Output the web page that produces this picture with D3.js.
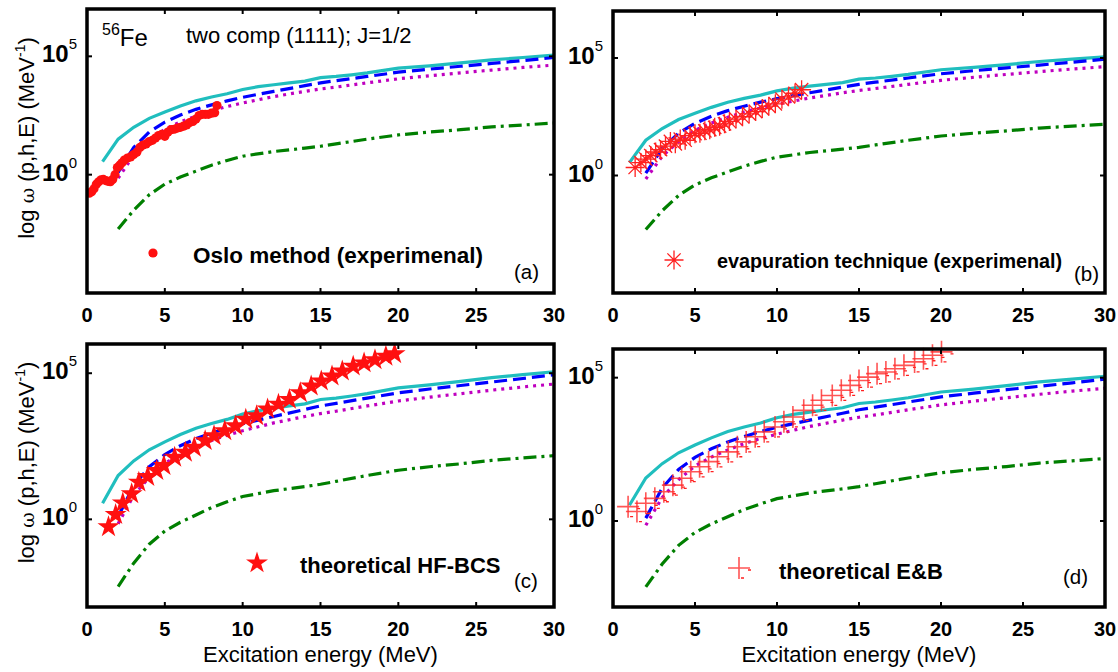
<!DOCTYPE html>
<html>
<head>
<meta charset="utf-8">
<script src="https://cdn.jsdelivr.net/npm/d3@7"></script>
<style>
  body { margin: 0; background: #fff; }
  svg { display: block; font-family: "Liberation Sans", Arial, sans-serif; }
</style>
</head>
<body>
<svg id="chart" width="1118" height="672"></svg>
<script>
// model curves (log10 of omega)
const cyanE   = [1, 2, 3, 4, 5, 6, 7, 8, 9, 10, 11, 12, 13, 14, 15, 16, 17, 18, 20, 22, 24, 26, 28, 30]
const cyanLog = [0.55, 1.5, 2.0, 2.38, 2.65, 2.9, 3.12, 3.28, 3.42, 3.6, 3.72, 3.8, 3.88, 3.95, 4.1, 4.15, 4.22, 4.3, 4.5, 4.6, 4.72, 4.85, 4.95, 5.05]

const curveE   = [2, 3, 4, 5, 6, 7, 8, 9, 10, 12, 14, 15, 16, 18, 20, 22, 24, 26, 28, 30]
const blueLog  = [0.1, 1.15, 1.8, 2.22, 2.52, 2.76, 2.95, 3.12, 3.27, 3.52, 3.76, 3.88, 3.97, 4.15, 4.33, 4.46, 4.58, 4.7, 4.82, 4.95]
const magLog   = [-0.15, 0.82, 1.44, 1.92, 2.23, 2.48, 2.7, 2.88, 3.03, 3.3, 3.52, 3.62, 3.7, 3.88, 4.05, 4.18, 4.3, 4.42, 4.53, 4.63]
const greenLog = [-2.3, -1.5, -0.85, -0.4, -0.1, 0.15, 0.4, 0.6, 0.78, 0.98, 1.12, 1.2, 1.3, 1.5, 1.68, 1.8, 1.9, 2.02, 2.1, 2.18]

// (a) Oslo method
const osloE   = [0.15, 0.3, 0.45, 0.6, 0.75, 0.9, 1.05, 1.2, 1.35, 1.5, 1.65, 1.8, 1.95, 2.1, 2.25, 2.4, 2.6, 2.8, 3.0, 3.2, 3.4, 3.6, 3.8, 4.0, 4.2, 4.4, 4.6, 4.8, 5.0, 5.2, 5.4, 5.6, 5.8, 6.0, 6.2, 6.4, 6.6, 6.8, 7.0, 7.2, 7.4, 7.6, 7.8, 8.0, 8.2, 8.35]
const osloLog = [-0.78, -0.72, -0.6, -0.4, -0.3, -0.22, -0.2, -0.25, -0.28, -0.3, -0.2, 0.0, 0.3, 0.4, 0.5, 0.62, 0.7, 0.75, 0.85, 0.95, 1.15, 1.25, 1.3, 1.4, 1.45, 1.55, 1.65, 1.7, 1.62, 1.8, 1.9, 1.92, 1.97, 2.0, 2.05, 2.1, 2.2, 2.25, 2.35, 2.5, 2.55, 2.55, 2.55, 2.6, 2.62, 2.92]

// (b) evaporation technique
const evapE   = [1.35, 1.7, 2.0, 2.3, 2.6, 2.9, 3.2, 3.5, 3.8, 4.1, 4.4, 4.7, 5.0, 5.3, 5.6, 5.9, 6.2, 6.5, 6.8, 7.1, 7.5, 7.9, 8.3, 8.7, 9.1, 9.5, 9.9, 10.3, 10.7, 11.1, 11.5]
const evapLog = [0.34, 0.55, 0.7, 0.85, 1.0, 1.1, 1.25, 1.45, 1.35, 1.55, 1.5, 1.7, 1.78, 1.8, 1.9, 1.95, 2.05, 2.1, 2.2, 2.3, 2.4, 2.5, 2.62, 2.72, 2.85, 2.95, 3.05, 3.25, 3.35, 3.5, 3.65]

// (c) theoretical HF-BCS
const hfE   = [1.38, 1.84, 2.3, 2.87, 3.33, 3.9, 4.48, 4.94, 5.63, 6.32, 6.89, 7.59, 8.16, 8.85, 9.54, 10.2, 10.9, 11.6, 12.3, 13.0, 13.7, 14.4, 15.05, 15.74, 16.4, 17.1, 17.8, 18.5, 19.2, 19.76]
const hfLog = [-0.26, 0.16, 0.56, 0.87, 1.27, 1.46, 1.67, 1.84, 2.12, 2.29, 2.46, 2.69, 2.86, 3.03, 3.2, 3.42, 3.54, 3.77, 3.94, 4.1, 4.33, 4.56, 4.73, 4.9, 5.07, 5.24, 5.35, 5.46, 5.58, 5.66]

// (d) theoretical E&B
const ebE   = [0.92, 1.46, 2.0, 2.55, 3.1, 3.65, 4.19, 4.74, 5.28, 5.83, 6.37, 7.03, 7.58, 8.12, 8.67, 9.22, 9.88, 10.42, 10.97, 11.63, 12.17, 12.71, 13.37, 13.92, 14.46, 15.0, 15.55, 16.1, 16.64, 17.19, 17.74, 18.39, 18.93, 19.48, 20.03]
const ebLog = [0.5, 0.33, 0.62, 0.79, 1.02, 1.25, 1.49, 1.72, 1.89, 2.07, 2.24, 2.41, 2.59, 2.76, 2.94, 3.11, 3.28, 3.46, 3.63, 3.86, 4.04, 4.21, 4.38, 4.56, 4.73, 4.9, 5.02, 5.14, 5.2, 5.31, 5.43, 5.55, 5.66, 5.78, 5.9]

const xTicks = [0, 5, 10, 15, 20, 25, 30]
const yTickExp = [0, 5]

const zip = (xs, ls) => xs.map((x, i) => ({ x: x, y: Math.pow(10, ls[i]) }))

const panels = [
  { box: [87, 9, 554, 293], yDom: [1e-5, 1e7], letter: "(a)", lx: 514, ly: 279, ylabel: true,
    pts: zip(osloE, osloLog), marker: "dot", legend: "Oslo method (experimenal)", legFs: 22.5,
    mk: [153, 253], tx: 193, ty: 263, title: true },
  { box: [613, 11, 1105, 293], yDom: [1e-5, 1e7], letter: "(b)", lx: 1074, ly: 281, ylabel: false,
    pts: zip(evapE, evapLog), marker: "asterisk", legend: "evapuration technique (experimenal)", legFs: 19.8,
    mk: [674, 260], tx: 717, ty: 268 },
  { box: [87, 344, 554, 607], yDom: [1e-3, 1e6], letter: "(c)", lx: 514, ly: 588, ylabel: true, xlabel: true,
    pts: zip(hfE, hfLog), marker: "star", legend: "theoretical HF-BCS", legFs: 22,
    mk: [257, 563], tx: 300, ty: 573 },
  { box: [613, 349, 1105, 607], yDom: [1e-3, 1e6], letter: "(d)", lx: 1063, ly: 584, ylabel: false, xlabel: true,
    pts: zip(ebE, ebLog), marker: "plus", legend: "theoretical E&B", legFs: 22,
    mk: [739, 568], tx: 779, ty: 579 }
]

const svg = d3.select("#chart")

function drawMarker(g, type, cx, cy) {
  if (type == "dot") {
    g.append("circle").attr("cx", cx).attr("cy", cy).attr("r", 4.6).attr("fill", "#ff1010")
  } else if (type == "star") {
    g.append("path").attr("d", d3.symbol(d3.symbolStar, 150)())
      .attr("transform", "translate(" + cx + "," + cy + ")").attr("fill", "#ff1010")
  } else if (type == "asterisk") {
    const s = 9.5, d = s * 0.7
    g.append("path")
      .attr("d", `M${-s},0L${s},0M0,${-s}L0,${s}M${-d},${-d}L${d},${d}M${-d},${d}L${d},${-d}`)
      .attr("transform", "translate(" + cx + "," + cy + ")")
      .attr("stroke", "#ff2020").attr("stroke-width", 1.3).attr("fill", "none")
  } else {
    const s = 11
    g.append("path")
      .attr("d", `M${-s},0L${s},0M0,${-s}L0,${s}`)
      .attr("transform", "translate(" + cx + "," + cy + ")")
      .attr("stroke", "#ff2a2a").attr("stroke-width", 1.6).attr("fill", "none").attr("opacity", 0.8)
    g.append("path")
      .attr("d", `M2,${s - 1}L5,${s - 1}M${s - 2},2L${s + 1},2`)
      .attr("transform", "translate(" + cx + "," + cy + ")")
      .attr("stroke", "#ff2020").attr("stroke-width", 1.3)
  }
}

panels.forEach(p => {
  const [x0, y0, x1, y1] = p.box
  const x = d3.scaleLinear().domain([0, 30]).range([x0, x1])
  const y = d3.scaleLog().domain(p.yDom).range([y1, y0])
  const g = svg.append("g")

  const clipId = "clip" + p.letter[1]
  g.append("clipPath").attr("id", clipId)
    .append("rect").attr("x", x0).attr("y", y0 - 12).attr("width", x1 - x0 + 2).attr("height", y1 - y0 + 12)
  const plot = g.append("g").attr("clip-path", "url(#" + clipId + ")")

  const line = d3.line().x(d => x(d.x)).y(d => y(d.y))
  const curves = [
    { d: zip(cyanE, cyanLog), c: "#20bebe", dash: null },
    { d: zip(curveE, magLog), c: "#bf00bf", dash: "3,5" },
    { d: zip(curveE, blueLog), c: "#0000ff", dash: "13,6" },
    { d: zip(curveE, greenLog), c: "#007f00", dash: "13,5,3,5" }
  ]
  curves.forEach(cv => {
    plot.append("path").datum(cv.d).attr("d", line)
      .attr("fill", "none").attr("stroke", cv.c).attr("stroke-width", 3.2)
      .attr("stroke-dasharray", cv.dash)
  })

  p.pts.forEach(d => drawMarker(plot, p.marker, x(d.x), y(d.y)))

  // box with inward ticks on all sides
  g.append("rect").attr("x", x0).attr("y", y0).attr("width", x1 - x0).attr("height", y1 - y0)
    .attr("fill", "none").attr("stroke", "#000").attr("stroke-width", 3.5)
  xTicks.forEach(t => {
    g.append("line").attr("x1", x(t)).attr("x2", x(t)).attr("y1", y1).attr("y2", y1 - 5).attr("stroke", "#000").attr("stroke-width", 2)
    g.append("line").attr("x1", x(t)).attr("x2", x(t)).attr("y1", y0).attr("y2", y0 + 5).attr("stroke", "#000").attr("stroke-width", 2)
    g.append("text").attr("x", x(t)).attr("y", y1 + 29).attr("text-anchor", "middle")
      .attr("font-size", 20).attr("font-weight", "bold").text(t)
  })
  yTickExp.forEach(e => {
    const yy = y(Math.pow(10, e))
    g.append("line").attr("x1", x0).attr("x2", x0 + 5).attr("y1", yy).attr("y2", yy).attr("stroke", "#000").attr("stroke-width", 2)
    g.append("line").attr("x1", x1).attr("x2", x1 - 5).attr("y1", yy).attr("y2", yy).attr("stroke", "#000").attr("stroke-width", 2)
    const tx = g.append("text").attr("x", x0 - 10).attr("y", yy + 6).attr("text-anchor", "end")
    tx.append("tspan").attr("font-size", 24).attr("font-weight", "bold").text("10")
    tx.append("tspan").attr("font-size", 15).attr("dy", -13).text(e)
  })

  if (p.ylabel) {
    const cy = (y0 + y1) / 2 - 13
    const lab = g.append("text").attr("transform", "translate(34," + cy + ") rotate(-90)")
      .attr("text-anchor", "middle").attr("font-size", 22)
    lab.append("tspan").text("log ")
    lab.append("tspan").attr("font-family", "DejaVu Serif").attr("font-size", 19).text("ω")
    lab.append("tspan").text(" (p,h,E) (MeV")
    lab.append("tspan").attr("font-size", 14).attr("dy", -9).text("-1")
    lab.append("tspan").attr("dy", 9).text(")")
  }
  if (p.xlabel) {
    g.append("text").attr("x", (x0 + x1) / 2).attr("y", 662).attr("text-anchor", "middle")
      .attr("font-size", 22).text("Excitation energy (MeV)")
  }

  g.append("text").attr("x", p.lx).attr("y", p.ly).attr("font-size", 20.5).text(p.letter)

  drawMarker(g, p.marker, p.mk[0], p.mk[1])
  g.append("text").attr("x", p.tx).attr("y", p.ty).attr("font-size", p.legFs)
    .attr("font-weight", "bold").text(p.legend)

  if (p.title) {
    const t = g.append("text").attr("x", 102).attr("y", 46).attr("font-size", 24)
    t.append("tspan").attr("font-size", 16).attr("dy", -11).text("56")
    t.append("tspan").attr("dy", 11).text("Fe")
    g.append("text").attr("x", 186).attr("y", 43).attr("font-size", 22).text("two comp (1111); J=1/2")
  }
})
</script>
</body>
</html>
